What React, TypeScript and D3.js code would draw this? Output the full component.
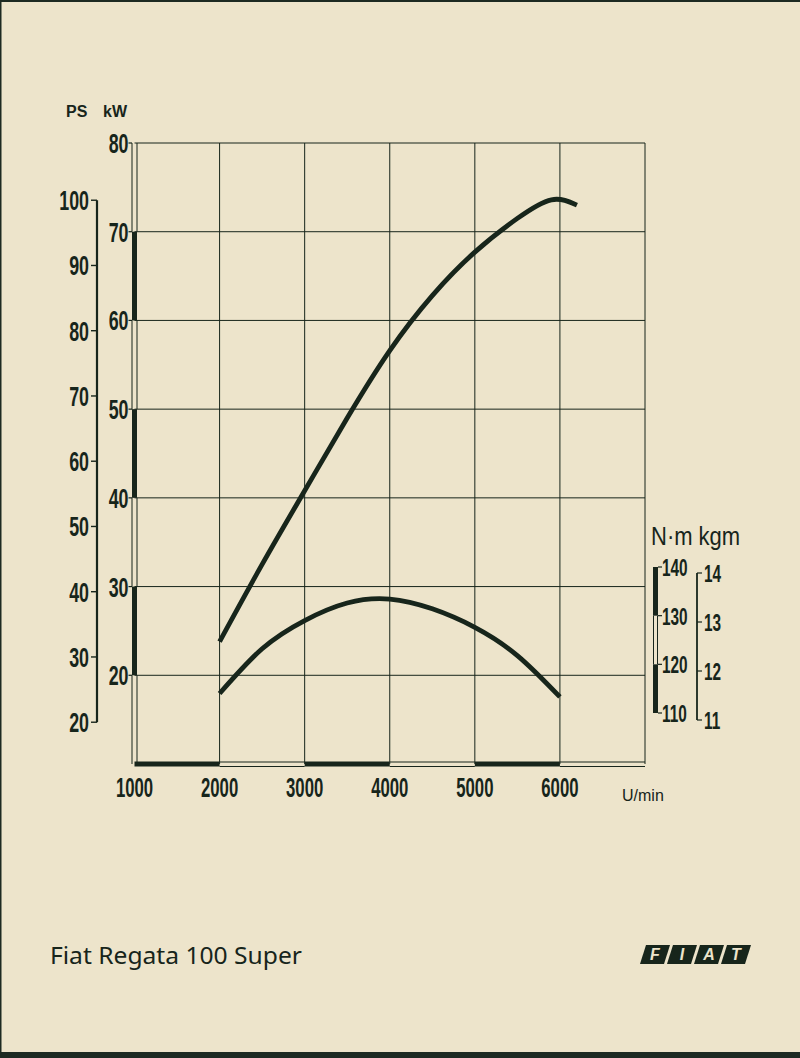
import React from "react";
import * as d3 from "d3";

// ---- data ----
const rpmTicks = [1000, 2000, 3000, 4000, 5000, 6000];
const kwTicks = [20, 30, 40, 50, 60, 70, 80];
const psTicks = [20, 30, 40, 50, 60, 70, 80, 90, 100];
const nmTicks = [110, 120, 130, 140];
const kgmTicks = [11, 12, 13, 14];

const powerRpm = [2000, 2500, 3000, 3500, 4000, 4500, 5000, 5500, 5900, 6200];
const powerKw = [23.8, 32.5, 40.8, 49.0, 56.6, 62.8, 67.7, 71.5, 73.6, 73.0];

const torqueRpm = [2000, 2500, 3000, 3500, 4000, 4500, 5000, 5500, 6000];
const torqueNm = [114.0, 123.2, 129.0, 132.6, 133.4, 131.4, 127.6, 121.8, 113.3];

const title = "Fiat Regata 100 Super";
const logoLetters = ["F", "I", "A", "T"];

const INK = "#17251b";
const PAPER = "#ede4cb";
const COND = "'Liberation Sans', 'DejaVu Sans', sans-serif";

function CondText({ x, y, text, size, anchor = "start", sx = 0.66, weight = "bold" }: any) {
  return (
    <text
      transform={`translate(${x},${y}) scale(${sx},1)`}
      textAnchor={anchor}
      fontFamily={COND}
      fontWeight={weight}
      fontSize={size}
      fill={INK}
    >
      {text}
    </text>
  );
}

export default function App() {
  const x = d3.scaleLinear().domain([1000, 7000]).range([134.5, 645]);
  const yKw = d3.scaleLinear().domain([10, 80]).range([764, 143]);
  const yPs = (ps: number) => yKw(ps * 0.7355);
  const yNm = d3.scaleLinear().domain([110, 140]).range([713, 567]);
  const yKgm = d3.scaleLinear().domain([11, 14]).range([720, 573]);

  const powerLine = d3
    .line<number>()
    .x((_, i) => x(powerRpm[i]))
    .y((d) => yKw(d))
    .curve(d3.curveNatural);
  const torqueLine = d3
    .line<number>()
    .x((_, i) => x(torqueRpm[i]))
    .y((d) => yNm(d))
    .curve(d3.curveNatural);

  const gridRpm = [2000, 3000, 4000, 5000, 6000, 7000];
  const xl = x(1000);
  const xr = x(7000);
  const yb = yKw(10);
  const yt = yKw(80);

  const kwSegs = d3.range(10, 80, 10);
  const rpmSegs = d3.range(1000, 7000, 1000);
  const nmSegs = [110, 120, 130];

  const logoX = 640;
  const logoY = 945;
  const boxW = 24;
  const boxH = 19;
  const gap = 3;
  const slant = 6;

  return (
    <svg
      width={800}
      height={1058}
      style={{ position: "absolute", left: 0, top: 0 }}
      xmlns="http://www.w3.org/2000/svg"
    >
      <rect x={0} y={0} width={800} height={1058} fill={PAPER} />
      <rect x={0} y={0} width={800} height={2} fill="#1d2a22" />
      <rect x={0} y={1052} width={800} height={6} fill="#1d2a22" />
      <rect x={0} y={0} width={1.5} height={1058} fill="#1d2a22" />

      {/* grid */}
      {kwTicks.map((k) => (
        <line key={"h" + k} x1={xl} x2={xr} y1={yKw(k)} y2={yKw(k)} stroke={INK} strokeWidth={1} />
      ))}
      {gridRpm.map((r) => (
        <line key={"v" + r} x1={x(r)} x2={x(r)} y1={yt} y2={yb} stroke={INK} strokeWidth={1} />
      ))}

      {/* kW axis bar */}
      {kwSegs.map((k, i) => {
        const filled = i % 2 === 1;
        const y1 = yKw(k + 10);
        const y2 = yKw(k);
        return filled ? (
          <rect key={"kb" + k} x={xl - 2.5} y={y1} width={5} height={y2 - y1} fill={INK} />
        ) : (
          <g key={"kb" + k}>
            <line x1={xl - 2.5} x2={xl - 2.5} y1={y1} y2={y2} stroke={INK} strokeWidth={1} />
            <line x1={xl + 2.5} x2={xl + 2.5} y1={y1} y2={y2} stroke={INK} strokeWidth={1} />
          </g>
        );
      })}
      {kwTicks.map((k) => (
        <g key={"kt" + k}>
          <line x1={xl - 6} x2={xl - 2.5} y1={yKw(k)} y2={yKw(k)} stroke={INK} strokeWidth={1.2} />
          <CondText x={xl - 6} y={yKw(k) + 10} text={String(k)} size={27} anchor="end" sx={0.66} />
        </g>
      ))}

      {/* rpm axis bar */}
      {rpmSegs.map((r, i) => {
        const filled = i % 2 === 0;
        const x1 = x(r);
        const x2 = x(r + 1000);
        return filled ? (
          <rect key={"rb" + r} x={x1} y={yb - 2.5} width={x2 - x1} height={5} fill={INK} />
        ) : (
          <g key={"rb" + r}>
            <line x1={x1} x2={x2} y1={yb - 2} y2={yb - 2} stroke={INK} strokeWidth={1} />
            <line x1={x1} x2={x2} y1={yb + 2.5} y2={yb + 2.5} stroke={INK} strokeWidth={1} />
          </g>
        );
      })}
      {rpmTicks.map((r) => (
        <CondText key={"rt" + r} x={x(r)} y={797} text={String(r)} size={27} anchor="middle" sx={0.62} />
      ))}
      <text x={622} y={801} fontFamily="'Liberation Sans', Arial, sans-serif" fontSize={16} fill={INK}>
        U/min
      </text>

      {/* PS axis */}
      <line x1={97} x2={97} y1={yPs(100)} y2={yPs(20)} stroke={INK} strokeWidth={2.2} />
      {psTicks.map((p) => (
        <g key={"ps" + p}>
          <line x1={91} x2={97} y1={yPs(p)} y2={yPs(p)} stroke={INK} strokeWidth={1.4} />
          <CondText x={89} y={yPs(p) + 10} text={String(p)} size={27} anchor="end" sx={0.66} />
        </g>
      ))}
      <text x={66} y={117} fontFamily="'Liberation Sans', Arial, sans-serif" fontWeight="bold" fontSize={16} fill={INK}>
        PS
      </text>
      <text x={103} y={117} fontFamily="'Liberation Sans', Arial, sans-serif" fontWeight="bold" fontSize={16} fill={INK}>
        kW
      </text>

      {/* torque axes */}
      <text
        x={0}
        y={0}
        fontFamily={COND}
        fontSize={25}
        fill={INK}
        transform="translate(651,545) scale(0.88,1)"
      >
        N·m kgm
      </text>
      {nmSegs.map((n, i) => {
        const filled = i !== 1;
        const y1 = yNm(n + 10);
        const y2 = yNm(n);
        return filled ? (
          <rect key={"nb" + n} x={653} y={y1} width={5} height={y2 - y1} fill={INK} />
        ) : (
          <g key={"nb" + n}>
            <line x1={653.5} x2={653.5} y1={y1} y2={y2} stroke={INK} strokeWidth={1} />
            <line x1={657.5} x2={657.5} y1={y1} y2={y2} stroke={INK} strokeWidth={1} />
          </g>
        );
      })}
      {nmTicks.map((n) => (
        <g key={"nt" + n}>
          <line x1={658} x2={662} y1={yNm(n)} y2={yNm(n)} stroke={INK} strokeWidth={1.2} />
          <CondText x={662} y={yNm(n) + 9} text={String(n)} size={24} sx={0.64} />
        </g>
      ))}
      <line x1={697} x2={697} y1={yKgm(14)} y2={yKgm(11)} stroke={INK} strokeWidth={1.8} />
      {kgmTicks.map((k) => (
        <g key={"gt" + k}>
          <line x1={697} x2={702} y1={yKgm(k)} y2={yKgm(k)} stroke={INK} strokeWidth={1.2} />
          <CondText x={704} y={yKgm(k) + 9} text={String(k)} size={24} sx={0.64} />
        </g>
      ))}

      {/* curves */}
      <path d={powerLine(powerKw) || ""} fill="none" stroke={INK} strokeWidth={4.8} strokeLinecap="butt" />
      <path d={torqueLine(torqueNm) || ""} fill="none" stroke={INK} strokeWidth={4.8} strokeLinecap="butt" />

      {/* title */}
      <text
        x={50}
        y={964}
        fontFamily="'Noto Sans', 'Open Sans', sans-serif"
        fontSize={23}
        fill={INK}
        textLength={252}
        lengthAdjust="spacingAndGlyphs"
      >
        {title}
      </text>

      {/* FIAT logo */}
      {logoLetters.map((l, i) => {
        const bx = logoX + i * (boxW + gap);
        const pts = [
          [bx + slant, logoY],
          [bx + boxW + slant, logoY],
          [bx + boxW, logoY + boxH],
          [bx, logoY + boxH],
        ]
          .map((p) => p.join(","))
          .join(" ");
        return (
          <g key={"lg" + i}>
            <polygon points={pts} fill={INK} />
            <text
              x={bx + boxW / 2 + slant / 2}
              y={logoY + 15}
              textAnchor="middle"
              fontFamily="'Liberation Sans', Arial, sans-serif"
              fontWeight="bold"
              fontStyle="italic"
              fontSize={16}
              fill={PAPER}
            >
              {l}
            </text>
          </g>
        );
      })}
    </svg>
  );
}
